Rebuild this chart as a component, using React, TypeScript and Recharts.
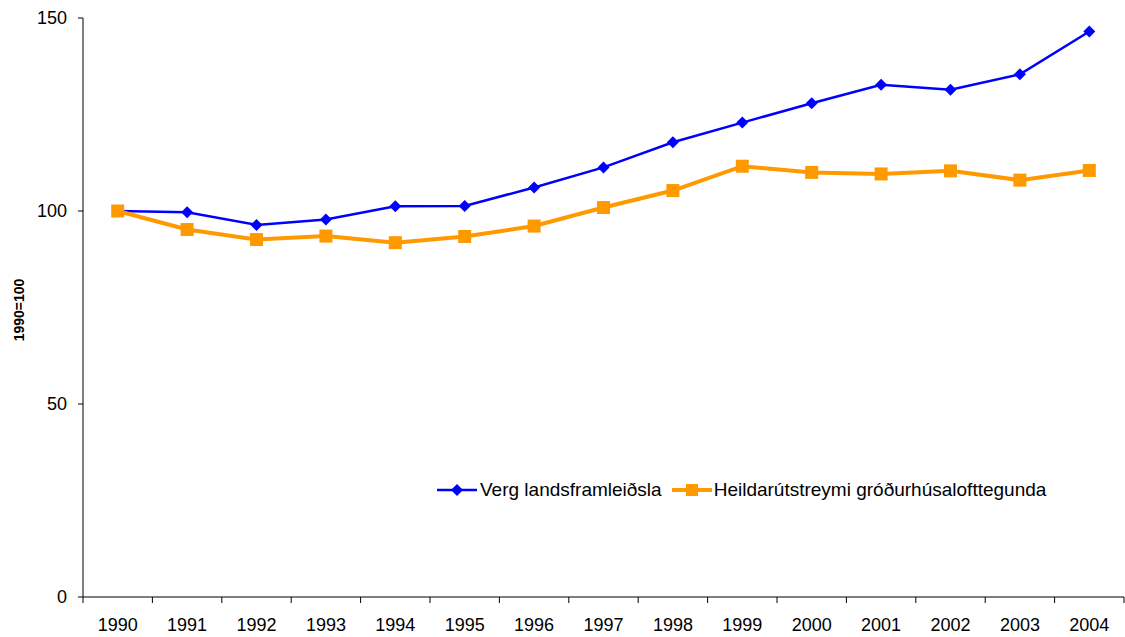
import React from "react";
import { LineChart, Line, XAxis, YAxis } from "recharts";

const years = ["1990","1991","1992","1993","1994","1995","1996","1997","1998","1999","2000","2001","2002","2003","2004"];
const gdp = [100, 99.7, 96.4, 97.8, 101.2, 101.3, 106.1, 111.3, 117.8, 122.9, 127.9, 132.7, 131.4, 135.4, 146.5];
const ghg = [100, 95.2, 92.6, 93.5, 91.8, 93.4, 96.1, 100.9, 105.3, 111.6, 110.0, 109.6, 110.4, 108.0, 110.5];
const yTicks = [0, 50, 100, 150];
const gdpName = "Verg landsframleiðsla";
const ghgName = "Heildarútstreymi gróðurhúsalofttegunda";

const data = years.map((y, i) => ({ year: y, gdp: gdp[i], ghg: ghg[i] }));

const FONT = "'Liberation Sans', Arial, sans-serif";
const BAND = (1124 - 83) / 15;

const Diamond = (props: any) => {
  const { cx, cy } = props;
  if (cx == null || cy == null) return null;
  const r = 6;
  return <polygon points={`${cx},${cy - r} ${cx + r},${cy} ${cx},${cy + r} ${cx - r},${cy}`} fill="#0000FF" />;
};

const Square = (props: any) => {
  const { cx, cy } = props;
  if (cx == null || cy == null) return null;
  const s = 13;
  return <rect x={cx - s / 2} y={cy - s / 2} width={s} height={s} fill="#FF9900" />;
};

const XTick = (props: any) => {
  const { x, payload, index } = props;
  const axisY = 597;
  const last = index === years.length - 1;
  return (
    <g>
      <line x1={x - BAND / 2} x2={x - BAND / 2} y1={axisY} y2={axisY + 6} stroke="#000" strokeWidth={1} />
      {last && <line x1={x + BAND / 2} x2={x + BAND / 2} y1={axisY} y2={axisY + 6} stroke="#000" strokeWidth={1} />}
      <text x={x} y={axisY + 34} textAnchor="middle" fontSize={18} fontFamily={FONT} fill="#000">
        {payload.value}
      </text>
    </g>
  );
};

const LegendBox = () => (
  <div
    style={{
      position: "absolute",
      left: 437,
      top: 478,
      display: "flex",
      alignItems: "center",
      fontFamily: FONT,
      fontSize: 19,
      lineHeight: "24px",
      color: "#000",
      whiteSpace: "nowrap",
    }}
  >
    <svg width={40} height={14} style={{ marginRight: 3 }}>
      <line x1={0} x2={40} y1={7} y2={7} stroke="#0000FF" strokeWidth={2.5} />
      <polygon points="20,1 26,7 20,13 14,7" fill="#0000FF" />
    </svg>
    <span style={{ marginRight: 10 }}>{gdpName}</span>
    <svg width={40} height={14} style={{ marginRight: 2 }}>
      <line x1={0} x2={40} y1={7} y2={7} stroke="#FF9900" strokeWidth={4} />
      <rect x={14} y={1} width={12} height={12} fill="#FF9900" />
    </svg>
    <span>{ghgName}</span>
  </div>
);

export default function App() {
  return (
    <div style={{ position: "absolute", left: 0, top: 0, width: 1125, height: 637, background: "#fff" }}>
      <LineChart width={1125} height={637} data={data} margin={{ top: 18, right: 1, left: 0, bottom: 0 }}>
        <XAxis
          dataKey="year"
          height={40}
          tickLine={false}
          axisLine={{ stroke: "#000", strokeWidth: 1 }}
          tick={<XTick />}
          interval={0}
          padding={{ left: BAND / 2, right: BAND / 2 }}
        />
        <YAxis
          width={83}
          domain={[0, 150]}
          ticks={yTicks}
          interval={0}
          axisLine={{ stroke: "#000", strokeWidth: 1 }}
          tickLine={{ stroke: "#000" }}
          tickSize={5}
          tickMargin={11}
          tick={{ fill: "#000", fontSize: 18, fontFamily: FONT }}
        />
        <text
          x={24}
          y={310}
          transform="rotate(-90 24 310)"
          textAnchor="middle"
          fontSize={14}
          fontWeight="bold"
          fontFamily={FONT}
          fill="#000"
        >
          1990=100
        </text>
        <Line
          dataKey="gdp"
          name={gdpName}
          stroke="#0000FF"
          strokeWidth={2.5}
          dot={<Diamond />}
          activeDot={false}
          isAnimationActive={false}
        />
        <Line
          dataKey="ghg"
          name={ghgName}
          stroke="#FF9900"
          strokeWidth={4}
          dot={<Square />}
          activeDot={false}
          isAnimationActive={false}
        />
      </LineChart>
      <LegendBox />
    </div>
  );
}
